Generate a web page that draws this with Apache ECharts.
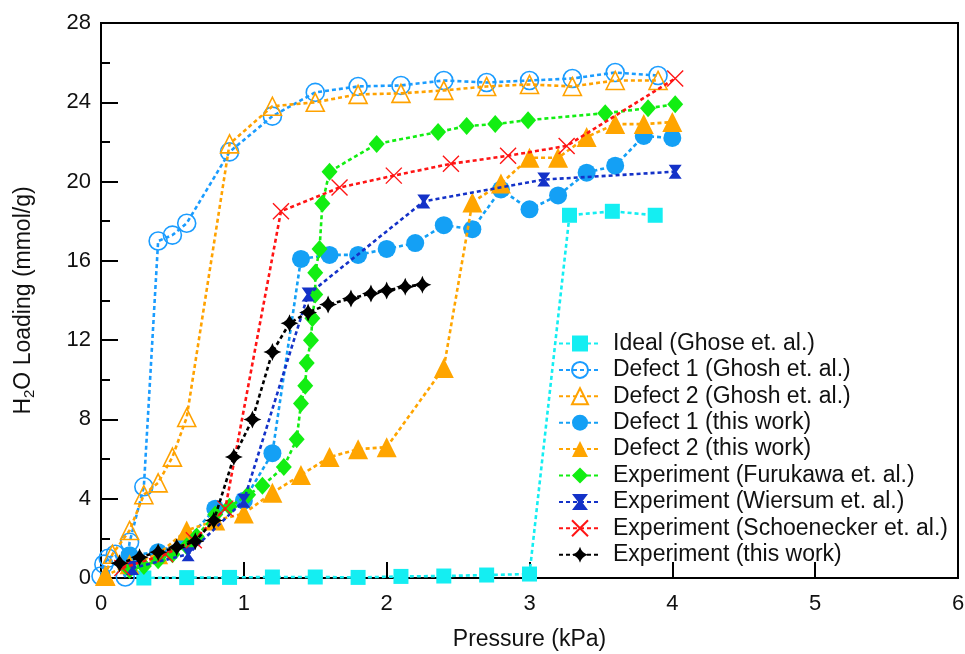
<!DOCTYPE html>
<html>
<head>
<meta charset="utf-8">
<script src="https://cdn.jsdelivr.net/npm/echarts@6/dist/echarts.min.js"></script>
<style>
  html, body { margin: 0; padding: 0; background: #fff; }
  #chart { width: 965px; height: 654px; }
</style>
</head>
<body>
<div id="chart"></div>
<script>
// Water uptake isotherms: pressure (kPa) vs H2O loading (mmol/g)

const seriesNames = [
  'Ideal (Ghose et. al.)',
  'Defect 1 (Ghosh et. al.)',
  'Defect 2 (Ghosh et. al.)',
  'Defect 1 (this work)',
  'Defect 2 (this work)',
  'Experiment (Furukawa et. al.)',
  'Experiment (Wiersum et. al.)',
  'Experiment (Schoenecker et. al.)',
  'Experiment (this work)'
];

const idealX = [0.3, 0.6, 0.9, 1.2, 1.5, 1.8, 2.1, 2.4, 2.7, 3.0, 3.28, 3.58, 3.88];
const idealY = [0.0, 0.02, 0.03, 0.05, 0.05, 0.03, 0.08, 0.1, 0.15, 0.2, 18.3, 18.5, 18.3];

const ghosh1X = [0.0, 0.02, 0.05, 0.1, 0.17, 0.2, 0.3, 0.4, 0.5, 0.6, 0.9, 1.2, 1.5, 1.8, 2.1, 2.4, 2.7, 3.0, 3.3, 3.6, 3.9];
const ghosh1Y = [0.1, 0.7, 1.0, 1.2, 0.05, 1.8, 4.6, 17.0, 17.3, 17.9, 21.5, 23.3, 24.5, 24.8, 24.85, 25.1, 25.0, 25.1, 25.2, 25.5, 25.35];

const ghosh2X = [0.03, 0.08, 0.2, 0.3, 0.4, 0.5, 0.6, 0.9, 1.2, 1.5, 1.8, 2.1, 2.4, 2.7, 3.0, 3.3, 3.6, 3.9];
const ghosh2Y = [0.1, 1.2, 2.4, 4.2, 4.8, 6.1, 8.1, 21.9, 23.8, 24.0, 24.4, 24.45, 24.6, 24.8, 24.9, 24.8, 25.1, 25.1];

const defect1X = [0.2, 0.4, 0.6, 0.8, 1.0, 1.2, 1.4, 1.6, 1.8, 2.0, 2.2, 2.4, 2.6, 2.8, 3.0, 3.2, 3.4, 3.6, 3.8, 4.0];
const defect1Y = [1.15, 1.3, 1.9, 3.5, 3.9, 6.3, 16.1, 16.3, 16.3, 16.6, 16.9, 17.8, 17.6, 19.6, 18.6, 19.3, 20.45, 20.8, 22.3, 22.2];

const defect2X = [0.03, 0.2, 0.4, 0.6, 0.8, 1.0, 1.2, 1.4, 1.6, 1.8, 2.0, 2.4, 2.6, 2.8, 3.0, 3.2, 3.4, 3.6, 3.8, 4.0];
const defect2Y = [0.1, 0.7, 1.2, 2.4, 2.9, 3.25, 4.3, 5.2, 6.1, 6.5, 6.6, 10.6, 18.95, 19.9, 21.2, 21.2, 22.25, 22.9, 22.9, 23.0];

const furukawaX = [0.2, 0.3, 0.4, 0.5, 0.6, 0.67, 0.8, 0.9, 1.03, 1.13, 1.28, 1.37, 1.40, 1.43, 1.44, 1.47, 1.48, 1.5, 1.5, 1.53, 1.55, 1.6, 1.93, 2.36, 2.56, 2.76, 2.99, 3.53, 3.83, 4.02];
const furukawaY = [0.4, 0.6, 0.9, 1.2, 1.6, 2.1, 3.2, 3.6, 4.2, 4.65, 5.6, 7.0, 8.8, 9.7, 10.85, 12.0, 13.1, 14.3, 15.4, 16.6, 18.9, 20.5, 21.9, 22.5, 22.8, 22.9, 23.1, 23.45, 23.7, 23.9];

const wiersumX = [0.22, 0.61, 1.0, 1.45, 2.26, 3.1, 4.02];
const wiersumY = [0.5, 1.2, 3.9, 14.3, 19.0, 20.1, 20.5];

const schoeneckerX = [0.15, 0.45, 0.65, 0.87, 1.26, 1.67, 2.05, 2.45, 2.85, 3.26, 4.02];
const schoeneckerY = [0.5, 1.2, 1.9, 3.5, 18.5, 19.7, 20.3, 20.9, 21.3, 21.8, 25.2];

const thisWorkX = [0.13, 0.27, 0.40, 0.53, 0.66, 0.79, 0.93, 1.06, 1.2, 1.32, 1.45, 1.59, 1.75, 1.89, 2.0, 2.13, 2.25];
const thisWorkY = [0.75, 1.05, 1.3, 1.55, 1.85, 2.9, 6.1, 8.0, 11.4, 12.85, 13.4, 13.8, 14.1, 14.35, 14.5, 14.7, 14.8];

const xTicks = [0, 1, 2, 3, 4, 5, 6];
const yTicks = [0, 4, 8, 12, 16, 20, 24, 28];

const zip = (xs, ys) => xs.map((x, i) => [x, ys[i]]);

const FONT = 'Liberation Sans, Arial, sans-serif';
const BOWTIE = 'path://M0,0 L10,0 L6.2,5 L10,10 L0,10 L3.8,5 Z';
const CROSS = 'path://M0,0 L10,10 M10,0 L0,10';
const STAR4 = 'path://M5,0 Q6.1,3.9 10,5 Q6.1,6.1 5,10 Q3.9,6.1 0,5 Q3.9,3.9 5,0 Z';

function makeSeries(name, xs, ys, color, symbol, size, itemStyle, z) {
  return {
    name: name,
    type: 'line',
    data: zip(xs, ys),
    symbol: symbol,
    symbolSize: size,
    showAllSymbol: true,
    z: z,
    lineStyle: { color: color, width: 2.6, type: [4, 3] },
    itemStyle: Object.assign({ color: color }, itemStyle || {}),
    emphasis: { disabled: true },
    animation: false
  };
}

const hollow = c => ({ color: 'rgba(255,255,255,0)', borderColor: c, borderWidth: 1.6 });

const series = [
  makeSeries(seriesNames[0], idealX, idealY, '#14eef2', 'rect', 15, null, 2),
  makeSeries(seriesNames[1], ghosh1X, ghosh1Y, '#1a9cff', 'circle', 18, hollow('#1a9cff'), 3),
  makeSeries(seriesNames[2], ghosh2X, ghosh2Y, '#ffa200', 'triangle', 18, hollow('#ffa200'), 4),
  makeSeries(seriesNames[3], defect1X, defect1Y, '#14a0f5', 'circle', 18, null, 5),
  makeSeries(seriesNames[4], defect2X, defect2Y, '#ffa500', 'triangle', 20, null, 6),
  makeSeries(seriesNames[5], furukawaX, furukawaY, '#12ee12', 'diamond', [16, 18], null, 7),
  makeSeries(seriesNames[6], wiersumX, wiersumY, '#1432c8', BOWTIE, [13, 14], null, 8),
  makeSeries(seriesNames[7], schoeneckerX, schoeneckerY, '#ff1414', CROSS, 16, { color: 'rgba(0,0,0,0)', borderColor: '#ff1414', borderWidth: 1.4 }, 9),
  makeSeries(seriesNames[8], thisWorkX, thisWorkY, '#000000', STAR4, 18, null, 10)
];

const chart = echarts.init(document.getElementById('chart'), null, { renderer: 'canvas' });

chart.setOption({
  backgroundColor: '#ffffff',
  animation: false,
  textStyle: { fontFamily: FONT },
  grid: {
    left: 101, right: 7, top: 23, bottom: 76,
    containLabel: false,
    outerBoundsMode: 'none',
    show: true, borderColor: '#000', borderWidth: 2, backgroundColor: 'transparent'
  },
  legend: {
    data: seriesNames,
    orient: 'vertical',
    left: 553,
    top: 327,
    itemWidth: 42,
    itemHeight: 20,
    itemGap: 3.4,
    textStyle: { fontFamily: FONT, fontSize: 23, color: '#111', padding: [0, 0, 0, 7] },
    selectedMode: false
  },
  xAxis: {
    type: 'value',
    min: xTicks[0],
    max: xTicks[xTicks.length - 1],
    interval: 1,
    name: 'Pressure (kPa)',
    nameLocation: 'middle',
    nameGap: 50,
    nameTextStyle: { fontFamily: FONT, fontSize: 23, color: '#111' },
    axisLine: { lineStyle: { color: '#000', width: 2 } },
    axisTick: { inside: true, length: 16, lineStyle: { color: '#000', width: 2 } },
    minorTick: { show: false },
    axisLabel: { margin: 15, fontFamily: FONT, fontSize: 22, color: '#111' },
    splitLine: { show: false }
  },
  yAxis: {
    type: 'value',
    min: yTicks[0],
    max: yTicks[yTicks.length - 1],
    interval: 4,
    name: '{t|H}{s|2}{t|O Loading (mmol/g)}',
    nameLocation: 'middle',
    nameGap: 64,
    nameRotate: 90,
    nameTextStyle: {
      rich: {
        t: { fontFamily: FONT, fontSize: 23, color: '#111' },
        s: { fontFamily: FONT, fontSize: 15, color: '#111', padding: [12, 0, 0, 0] }
      }
    },
    axisLine: { lineStyle: { color: '#000', width: 2 } },
    axisTick: { inside: true, length: 17, lineStyle: { color: '#000', width: 2 } },
    minorTick: { show: true, splitNumber: 2, length: 9, lineStyle: { color: '#000', width: 2 } },
    axisLabel: { margin: 10, fontFamily: FONT, fontSize: 22, color: '#111' },
    splitLine: { show: false }
  },
  series: series
});
</script>
</body>
</html>
